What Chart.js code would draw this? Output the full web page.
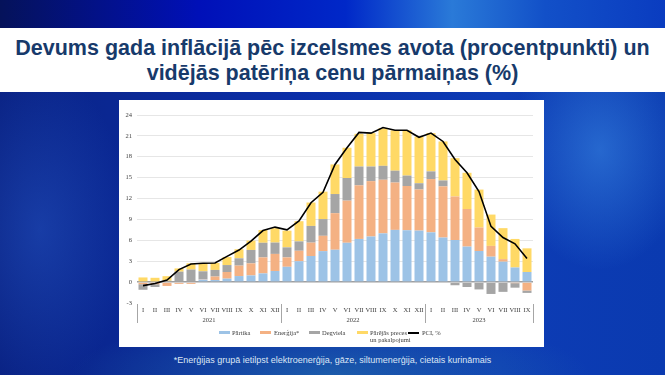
<!DOCTYPE html>
<html>
<head>
<meta charset="utf-8">
<script src="https://cdn.jsdelivr.net/npm/chart.js@4.4.1/dist/chart.umd.min.js"></script>
<style>
  html, body { margin: 0; padding: 0; }
  body {
    width: 665px; height: 375px; overflow: hidden; position: relative;
    background:
      radial-gradient(ellipse 90px 120px at 600px 150px, rgba(60,140,230,0.55), rgba(60,140,230,0) 100%),
      radial-gradient(ellipse 260px 60px at 330px 375px, rgba(40,120,170,0.6), rgba(40,120,170,0) 100%),
      radial-gradient(ellipse 90px 160px at 40px 230px, rgba(40,90,200,0.45), rgba(40,90,200,0) 100%),
      linear-gradient(to right, #0a2385 0%, #0a2ea8 45%, #0d3cb5 75%, #0a3ab0 100%);
    font-family: "Liberation Sans", Arial, sans-serif;
  }
  #topband {
    position: absolute; left: 0; top: 0; width: 665px; height: 28px;
    background: linear-gradient(to right, #05125a 0%, #0010b8 30%, #0028c8 52%, #2a7ad8 68%, #1250c8 82%, #0a3cc0 100%);
  }
  #title {
    position: absolute; left: 0; top: 28px; width: 665px; height: 64px;
    background: #ffffff; display: flex; align-items: center; justify-content: center;
    text-align: center; font-weight: bold; font-size: 21.5px; line-height: 25px; color: #173a6b;
  }
  #title span { position: relative; top: 1px; }
  #box {
    position: absolute; left: 119px; top: 100px; width: 425px; height: 247px; background: #fff;
  }
  #box canvas { position: absolute; left: 0; top: 0; }
  .lg { position: absolute; font-family: "Liberation Serif", serif; font-size: 6.5px; color: #404040; line-height: 7px; white-space: nowrap; }
  .sw { position: absolute; width: 11px; height: 3px; }
  #note {
    position: absolute; left: 0; top: 355px; width: 665px; text-align: center;
    font-size: 9px; color: #dbe6f5;
  }
</style>
</head>
<body>
<div id="topband"></div>
<div id="title"><span>Devums gada inflācijā pēc izcelsmes avota (procentpunkti) un<br>vidējās patēriņa cenu pārmaiņas (%)</span></div>
<div id="box">
  <canvas id="inflation-chart" width="425" height="247"></canvas>
  <div class="sw" style="left:100px;top:231px;background:#9dc3e6"></div><div class="lg" style="left:113px;top:229px">Pārtika</div>
  <div class="sw" style="left:141px;top:231px;background:#f4b183"></div><div class="lg" style="left:155px;top:229px">Enerģija*</div>
  <div class="sw" style="left:190px;top:231px;background:#a5a5a5"></div><div class="lg" style="left:203px;top:229px">Degviela</div>
  <div class="sw" style="left:238px;top:231px;background:#ffd966"></div><div class="lg" style="left:251px;top:229px">Pārējās preces<br>un pakalpojumi</div>
  <div class="sw" style="left:289px;top:232px;height:1.5px;background:#000"></div><div class="lg" style="left:303px;top:229px">PCI, %</div>
</div>
<div id="note">*Enerģijas grupā ietilpst elektroenerģija, gāze, siltumenerģija, cietais kurināmais</div>

<script>
const months = ['I','II','III','IV','V','VI','VII','VIII','IX','X','XI','XII'];
const years = ['2021', '2022', '2023'];
const months_per_year = [12, 12, 9];

const food = [0, 0, 0, 0, 0, 0.35, 0.3, 0.5, 0.87, 0.96, 1.25, 1.6,
  2.2, 3.0, 3.75, 4.45, 4.65, 5.65, 6.2, 6.55, 7.0, 7.5, 7.45, 7.4,
  7.15, 6.4, 6.05, 5.1, 4.47, 3.65, 2.93, 2.1, 1.45];
const energy = [-0.3, -0.3, -0.55, -0.25, -0.25, 0.05, 0.5, 0.95, 1.5, 1.73, 2.3, 2.45,
  1.35, 1.5, 1.92, 2.2, 5.25, 6.05, 7.7, 7.95, 7.7, 6.8, 6.35, 5.9,
  7.65, 7.35, 6.25, 5.4, 3.37, 1.55, 0.37, -0.15, -1.2];
const fuel = [-0.8, -0.4, 0.2, 1.5, 1.8, 1.15, 0.95, 1.0, 1.05, 1.93, 2.1, 1.63,
  1.44, 1.35, 2.4, 2.4, 2.75, 3.25, 2.7, 2.1, 2.0, 1.7, 1.5, 0.9,
  1.1, 0.85, -0.45, -0.7, -1.05, -1.7, -1.4, -0.65, -0.35];
const other = [0.67, 0.62, 0.65, 0.47, 0.9, 1.2, 1.0, 1.15, 1.3, 1.34, 1.83, 2.07,
  2.4, 2.9, 3.36, 3.94, 4.25, 4.35, 4.7, 4.8, 5.4, 5.8, 6.5, 6.7,
  5.5, 5.6, 5.5, 5.2, 5.45, 4.5, 4.45, 4.1, 3.4];
const pci = [-0.5, -0.2, 0.3, 1.8, 2.6, 2.7, 2.75, 3.7, 4.6, 5.9, 7.4, 7.9,
  7.5, 8.8, 11.4, 12.9, 16.9, 19.3, 21.5, 21.4, 22.2, 21.8, 21.8, 20.8,
  21.4, 20.2, 17.6, 15.7, 13.0, 8.0, 6.4, 5.5, 3.4];

const labels = [];
months_per_year.forEach(n => { for (let i = 0; i < n; i++) labels.push(months[i]); });

// year names + separators under the month labels
const yearAxis = {
  id: 'yearAxis',
  afterDraw(chart) {
    const x = chart.scales.x, area = chart.chartArea, c = chart.ctx;
    const half = (x.getPixelForValue(1) - x.getPixelForValue(0)) / 2;
    c.save();
    c.strokeStyle = '#a6a6a6';
    c.lineWidth = 1;
    c.fillStyle = '#404040';
    c.font = '6.5px "Liberation Serif"';
    c.textAlign = 'center';
    c.textBaseline = 'middle';
    let start = 0;
    const edges = [0];
    months_per_year.forEach((n, k) => {
      const l = x.getPixelForValue(start) - half;
      const r = x.getPixelForValue(start + n - 1) + half;
      c.fillText(years[k], (l + r) / 2, area.bottom + 17.5);
      start += n;
      edges.push(start);
    });
    edges.forEach(e => {
      const px = Math.round((e < labels.length ? x.getPixelForValue(e) - half : x.getPixelForValue(e - 1) + half)) + 0.5;
      c.beginPath();
      c.moveTo(px, area.bottom + 1);
      c.lineTo(px, area.bottom + 20);
      c.stroke();
    });
    c.restore();
  }
};

const ctx = document.getElementById('inflation-chart');
const myChart = new Chart(ctx, {
  type: 'bar',
  data: {
    labels: labels,
    datasets: [
      { type: 'line', label: 'PCI, %', data: pci, borderColor: '#000000', borderWidth: 1.6,
        pointRadius: 0, tension: 0, fill: false, stack: 'pci', order: 0 },
      { label: 'Pārtika', data: food, backgroundColor: '#9dc3e6', stack: 'main', order: 1 },
      { label: 'Enerģija*', data: energy, backgroundColor: '#f4b183', stack: 'main', order: 1 },
      { label: 'Degviela', data: fuel, backgroundColor: '#a5a5a5', stack: 'main', order: 1 },
      { label: 'Pārējās preces un pakalpojumi', data: other, backgroundColor: '#ffd966', stack: 'main', order: 1 }
    ]
  },
  options: {
    responsive: false,
    devicePixelRatio: 1,
    animation: false,
    datasets: { bar: { barPercentage: 0.75, categoryPercentage: 1 } },
    layout: { padding: { top: 15, right: 11, left: 0, bottom: 0 } },
    plugins: { legend: { display: false }, tooltip: { enabled: false } },
    scales: {
      x: {
        stacked: true,
        grid: { display: false, drawTicks: false },
        border: { display: false },
        ticks: { autoSkip: false, maxRotation: 0, padding: 3, color: '#404040',
                 font: { family: 'Liberation Serif', size: 6.5 } },
        afterFit(scale) { scale.height = 44; }
      },
      y: {
        stacked: true,
        min: -3, max: 24,
        border: { display: false },
        grid: {
          drawTicks: false,
          color: c => c.tick.value === 0 ? '#a0a0a0' : (c.tick.value === -3 ? 'rgba(0,0,0,0)' : '#e6e6e6'),
          lineWidth: c => c.tick.value === 0 ? 1.5 : 1
        },
        ticks: { stepSize: 3, padding: 5, color: '#404040',
                 font: { family: 'Liberation Serif', size: 6.5 } },
        afterFit(scale) { scale.width = 18; }
      }
    }
  },
  plugins: [yearAxis]
});
</script>
</body>
</html>
